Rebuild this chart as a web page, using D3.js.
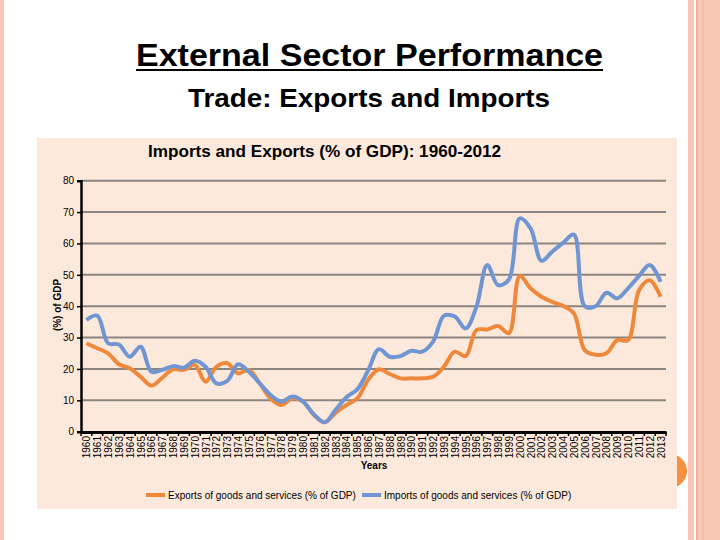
<!DOCTYPE html>
<html>
<head>
<meta charset="utf-8">
<script src="https://cdn.jsdelivr.net/npm/d3@7"></script>
<style>
  html, body { margin: 0; padding: 0; background: #ffffff; }
  svg { display: block; font-family: "Liberation Sans", Arial, sans-serif; }
</style>
</head>
<body>
<svg id="chart" width="720" height="540"></svg>
<script>
// ---------- data ----------
const years = ["1960","1961","1962","1963","1964","1965","1966","1967","1968","1969",
  "1970","1971","1972","1973","1974","1975","1976","1977","1978","1979",
  "1980","1981","1982","1983","1984","1985","1986","1987","1988","1989",
  "1990","1991","1992","1993","1994","1995","1996","1997","1998","1999",
  "2000","2001","2002","2003","2004","2005","2006","2007","2008","2009",
  "2010","2011","2012","2013"];
const exportsPct = [28.2,26.6,25.0,21.5,20.2,17.5,14.7,17.2,19.9,19.7,
  21.3,15.9,20.7,21.8,18.6,19.7,15.4,10.6,8.5,10.6,
  9.6,5.3,3.0,6.0,8.5,10.6,16.5,19.9,18.4,17.0,
  17.0,17.0,17.5,20.7,25.5,24.1,32.4,32.6,33.7,31.4,
  49.6,45.7,43.0,41.4,40.1,37.7,26.0,24.5,25.0,29.2,
  29.2,45.0,48.3,43.0];
const importsPct = [35.6,37.0,28.2,27.8,23.9,27.1,19.1,19.7,20.9,20.4,
  22.6,20.7,15.4,16.2,21.5,19.1,15.4,11.7,9.6,11.2,
  9.6,5.5,3.0,7.0,11.0,13.5,19.5,26.3,23.9,24.1,
  25.8,25.5,28.7,36.9,36.7,32.9,39.8,53.1,46.7,48.5,
  68.0,64.8,54.5,57.4,60.2,62.8,40.0,40.0,44.3,42.5,
  45.7,49.6,53.1,47.8];
const yTicks = [0,10,20,30,40,50,60,70,80];
const seriesNames = ["Exports of goods and services (% of GDP)", "Imports of goods and services (% of GDP)"];
const pageTitle = "External Sector Performance";
const pageSubtitle = "Trade: Exports and Imports";
const chartTitle = "Imports and Exports (% of GDP): 1960-2012";

// ---------- drawing ----------
const svg = d3.select("#chart");
const ORANGE = "#f0883b", BLUE = "#7095d3";

// slide decorations
svg.append("rect").attr("x",0).attr("y",0).attr("width",4).attr("height",540).attr("fill","#f9c8b4");
svg.append("rect").attr("x",688).attr("y",0).attr("width",6).attr("height",540).attr("fill","#f9c8b4");
svg.append("rect").attr("x",696).attr("y",0).attr("width",24).attr("height",540).attr("fill","#f9c8b4");
svg.append("line").attr("x1",697).attr("x2",697).attr("y1",0).attr("y2",540).attr("stroke","#ec9f7f").attr("stroke-width",1);
svg.append("line").attr("x1",703).attr("x2",703).attr("y1",0).attr("y2",540).attr("stroke","#f4b69c").attr("stroke-width",1);
svg.append("circle").attr("cx",670).attr("cy",471).attr("r",17).attr("fill","#f7913f");

// titles
svg.append("text").attr("x",369.5).attr("y",66).attr("text-anchor","middle")
  .attr("font-size",32).attr("font-weight","bold").attr("fill","#000")
  .attr("textLength",467).attr("lengthAdjust","spacingAndGlyphs").text(pageTitle);
svg.append("line").attr("x1",136).attr("x2",603).attr("y1",70).attr("y2",70).attr("stroke","#000").attr("stroke-width",2);
svg.append("text").attr("x",369).attr("y",107).attr("text-anchor","middle")
  .attr("font-size",26).attr("font-weight","bold").attr("fill","#000")
  .attr("textLength",362).attr("lengthAdjust","spacingAndGlyphs").text(pageSubtitle);

// chart panel
svg.append("rect").attr("x",37).attr("y",138).attr("width",640).attr("height",371).attr("fill","#fde9db");

svg.append("text").attr("x",324.5).attr("y",157).attr("text-anchor","middle")
  .attr("font-size",16.5).attr("font-weight","bold").attr("fill","#000")
  .attr("textLength",353).attr("lengthAdjust","spacingAndGlyphs").text(chartTitle);

const x = d3.scalePoint().domain(years).range([81, 666]).padding(0.5);
const y = d3.scaleLinear().domain([0, 80]).range([431.7, 180.7]);

// gridlines
svg.append("g").selectAll("line").data(yTicks.filter(d => d > 0)).join("line")
  .attr("x1", 82).attr("x2", 666)
  .attr("y1", d => y(d)).attr("y2", d => y(d))
  .attr("stroke", "#8b8580").attr("stroke-width", 2);

// y axis
const yAxis = svg.append("g").attr("transform","translate(81,0)")
  .call(d3.axisLeft(y).tickValues(yTicks).tickSize(4).tickPadding(3));
yAxis.select(".domain").attr("stroke","#000").attr("stroke-width",2.5);
yAxis.selectAll(".tick line").attr("stroke","#000").attr("stroke-width",1.5);
yAxis.selectAll(".tick text").attr("font-size",10).attr("fill","#000")
  .attr("font-family","Liberation Sans, Arial, sans-serif");

// x axis
const xAxis = svg.append("g").attr("transform","translate(0,432)")
  .call(d3.axisBottom(x).tickSize(0).tickPadding(4));
xAxis.select(".domain").attr("stroke","#000").attr("stroke-width",3);
xAxis.selectAll(".tick text")
  .attr("font-size",10).attr("fill","#000")
  .attr("font-family","Liberation Sans, Arial, sans-serif")
  .attr("transform","rotate(-90)")
  .attr("text-anchor","end").attr("dy","0.35em").attr("x",-4).attr("y",0);
// tick marks between categories
const step = x.step();
svg.append("g").selectAll("line").data(years.concat(["end"])).join("line")
  .attr("x1", (d,i) => 81 + i*step).attr("x2", (d,i) => 81 + i*step)
  .attr("y1", 432).attr("y2", 436)
  .attr("stroke","#000").attr("stroke-width",1.5);

// axis titles
svg.append("text").attr("transform","translate(61,305) rotate(-90)")
  .attr("text-anchor","middle").attr("font-size",10).attr("font-weight","bold").attr("fill","#000")
  .text("(%) of GDP");
svg.append("text").attr("x",374).attr("y",469).attr("text-anchor","middle")
  .attr("font-size",10).attr("font-weight","bold").attr("fill","#000").text("Years");

// lines
const line = d3.line().x((d,i) => x(years[i])).y(d => y(d)).curve(d3.curveCatmullRom.alpha(0.5));
svg.append("path").datum(exportsPct).attr("d", line).attr("fill","none")
  .attr("stroke", ORANGE).attr("stroke-width", 4).attr("stroke-linejoin","round");
svg.append("path").datum(importsPct).attr("d", line).attr("fill","none")
  .attr("stroke", BLUE).attr("stroke-width", 4).attr("stroke-linejoin","round");

// legend
const legend = [
  {name: seriesNames[0], color: ORANGE, x: 146},
  {name: seriesNames[1], color: BLUE, x: 362}
];
const lg = svg.append("g").selectAll("g").data(legend).join("g")
  .attr("transform", d => `translate(${d.x},495)`);
lg.append("line").attr("x1",0).attr("x2",19).attr("y1",0).attr("y2",0)
  .attr("stroke", d => d.color).attr("stroke-width",4);
lg.append("text").attr("x",22).attr("y",3.5).attr("font-size",10).attr("fill","#000")
  .text(d => d.name);
</script>
</body>
</html>
